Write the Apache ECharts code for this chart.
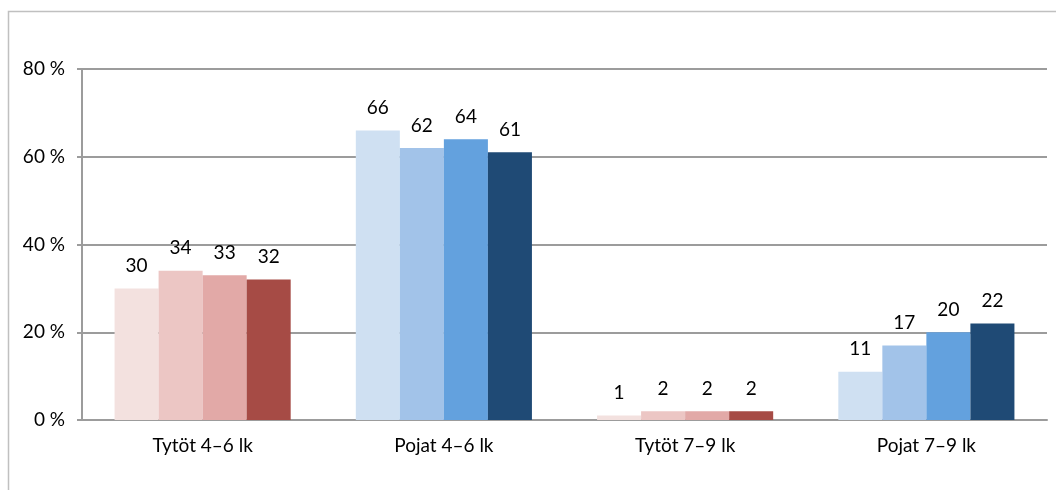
<!DOCTYPE html>
<html><head><meta charset="utf-8">
<script src="https://cdn.jsdelivr.net/npm/echarts@6/dist/echarts.min.js"></script>
<style>html,body{margin:0;padding:0;background:#fff}#c{width:1056px;height:490px}</style>
</head><body><div id="c"></div>
<script>
const categories = ['Tytöt 4–6 lk', 'Pojat 4–6 lk', 'Tytöt 7–9 lk', 'Pojat 7–9 lk'];
const s1 = [30, 66, 1, 11];
const s2 = [34, 62, 2, 17];
const s3 = [33, 64, 2, 20];
const s4 = [32, 61, 2, 22];
const yTicks = [0, 20, 40, 60, 80];
const girlColors = ['#f3e1df', '#ecc6c4', '#e2a9a7', '#a64b45'];
const boyColors = ['#cfe0f2', '#a2c3e9', '#63a1de', '#1f4a75'];
const isGirl = [true, false, true, false];
const font = 'Lato, "Noto Sans", sans-serif';

function mk(vals, idx) {
  return {
    type: 'bar',
    data: vals.map((v, i) => ({ value: v, itemStyle: { color: isGirl[i] ? girlColors[idx] : boyColors[idx] } })),
    barGap: '0%',
    barCategoryGap: '27%',
    label: { show: true, position: 'top', distance: 13, color: '#000', fontSize: 19, fontFamily: font }
  };
}

const chart = echarts.init(document.getElementById('c'), null, { renderer: 'canvas' });
chart.setOption({
  animation: false,
  grid: { left: 82, right: 9, top: 69, bottom: 70 },
  graphic: [{ type: 'rect', shape: { x: 8.5, y: 11.5, width: 1200, height: 600 }, style: { fill: null, stroke: '#c0c0c0', lineWidth: 1.5 }, silent: true }],
  xAxis: {
    type: 'category', data: categories,
    axisLine: { lineStyle: { color: '#9c9c9c', width: 2 } },
    axisTick: { show: false },
    axisLabel: { color: '#000', fontSize: 19, fontFamily: font, margin: 16 }
  },
  yAxis: {
    type: 'value', min: yTicks[0], max: yTicks[yTicks.length - 1], interval: 20,
    axisLine: { show: true, lineStyle: { color: '#9c9c9c', width: 2 } },
    axisTick: { show: true, length: 5, lineStyle: { color: '#9c9c9c', width: 2 } },
    splitLine: { lineStyle: { color: '#9c9c9c', width: 2 } },
    axisLabel: { color: '#000', fontSize: 19, fontFamily: font, margin: 17, formatter: '{value} %' }
  },
  series: [mk(s1, 0), mk(s2, 1), mk(s3, 2), mk(s4, 3)]
});
</script></body></html>
